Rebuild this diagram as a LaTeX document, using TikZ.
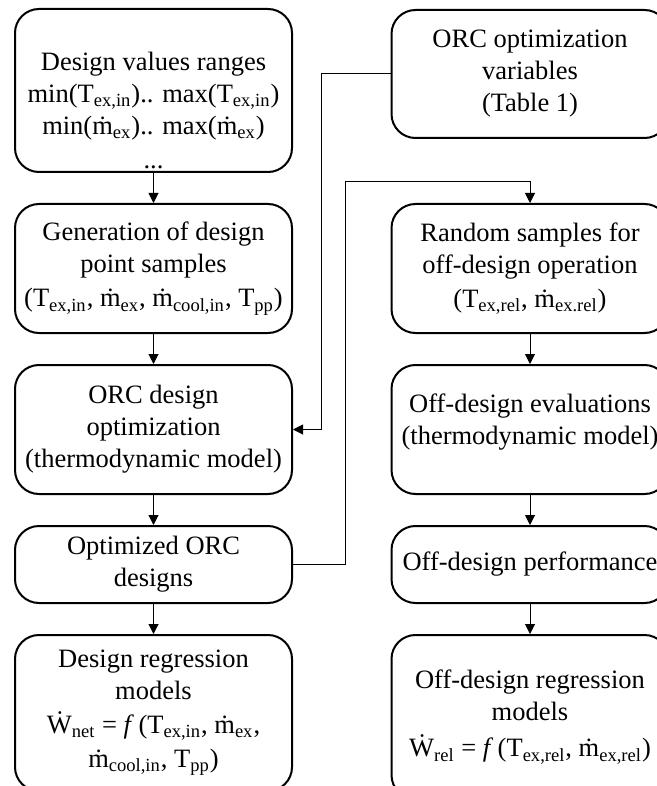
\documentclass[tikz,border=0pt]{standalone}
\usepackage{fontspec}
\setmainfont{Liberation Serif}
\usetikzlibrary{arrows.meta}
\tikzset{
  stage/.style={rectangle, draw, line width=1pt, rounded corners=12pt,
    minimum width=138.5pt, inner sep=0pt, align=center},
  flow/.style={-{Triangle[length=5pt,width=5pt]}, line width=0.5pt}
}
\begin{document}
\begin{tikzpicture}[x=0.5pt, y=-0.5pt, font=\fontsize{13.25}{16}\selectfont]
            \clip (0,0) rectangle (657,786);
            % design side
            \node[stage, minimum height=81.5pt] (ranges) at (153.5,90.5) {\rule{0pt}{29pt}Design values ranges\\min(T\textsubscript{ex,in}).. max(T\textsubscript{ex,in})\\min(\.{m}\textsubscript{ex}).. max(\.{m}\textsubscript{ex})\\[1pt]...};
            \node[stage, minimum height=64.5pt] (samples) at (153.5,268.5) {Generation of design\\point samples\\[1pt](T\textsubscript{ex,in}, \.{m}\textsubscript{ex}, \.{m}\textsubscript{cool,in}, T\textsubscript{pp})};
            \node[stage, minimum height=64.5pt] (optim) at (153.5,429.5) {ORC design\\optimization\\(thermodynamic model)};
            \node[stage, minimum height=38.5pt] (designs) at (153.5,564.5) {Optimized ORC\\designs};
            \node[stage, minimum height=78pt] (dreg) at (153.5,713) {Design regression\\models\\[1pt]\.{W}\textsubscript{net} = \textit{f}\,(T\textsubscript{ex,in}, \.{m}\textsubscript{ex},\\[1pt]\.{m}\textsubscript{cool,in}, T\textsubscript{pp})};
            % off-design side
            \node[stage, minimum height=64pt] (vars) at (530,74) {ORC optimization\\variables\\(Table 1)};
            \node[stage, minimum height=64.5pt] (random) at (530,268.5) {Random samples for\\off-design operation\\[1pt](T\textsubscript{ex,rel}, \.{m}\textsubscript{ex.rel})};
            \node[stage, minimum height=64.5pt] (evals) at (530,429.5) {Off-design evaluations\\(thermodynamic model)\rule[-10pt]{0pt}{10pt}};
            \node[stage, minimum height=38.5pt] (perf) at (530,564.5) {Off-design performance};
            \node[stage, minimum height=82pt] (oreg) at (530,717) {Off-design regression\\models\\[2pt]\.{W}\textsubscript{rel} = \textit{f}\,(T\textsubscript{ex,rel}, \.{m}\textsubscript{ex,rel})};
            \coordinate (vbend) at (321,74);
            \coordinate (obend) at (345,182);
            \draw[flow] (ranges) -- (samples);
            \draw[flow] (samples) -- (optim);
            \draw[flow] (optim) -- (designs);
            \draw[flow] (designs) -- (dreg);
            \draw[flow] (random) -- (evals);
            \draw[flow] (evals) -- (perf);
            \draw[flow] (perf) -- (oreg);
            \draw[flow] (vars.west) -- (vbend) |- (optim.east);
            \draw[flow] (designs.east) -| (obend) -| (random.north);
        \end{tikzpicture}
\end{document}
